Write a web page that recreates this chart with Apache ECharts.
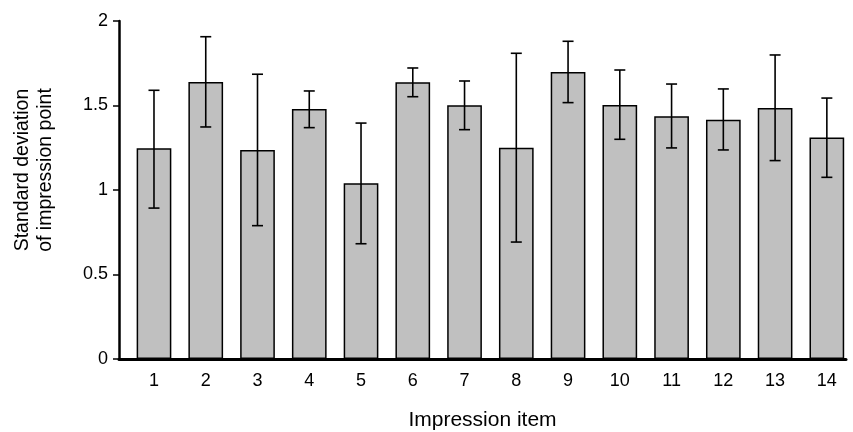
<!DOCTYPE html>
<html>
<head>
<meta charset="utf-8">
<script src="https://cdn.jsdelivr.net/npm/echarts@6/dist/echarts.min.js"></script>
<style>html,body{margin:0;padding:0;background:#fff;}#c{width:853px;height:432px;}</style>
</head>
<body>
<div id="c"></div>
<script>
var items = [1,2,3,4,5,6,7,8,9,10,11,12,13,14];
var means = [1.247,1.639,1.237,1.479,1.040,1.637,1.501,1.250,1.698,1.503,1.436,1.416,1.485,1.310];
var errHigh = [1.590,1.907,1.685,1.586,1.396,1.722,1.645,1.809,1.880,1.710,1.627,1.598,1.799,1.544];
var errLow = [0.893,1.373,0.789,1.369,0.682,1.552,1.357,0.692,1.517,1.300,1.249,1.237,1.174,1.075];
var yTicks = [0,0.5,1,1.5,2];

var FONT = '"Liberation Sans",Arial,sans-serif';
var chart = echarts.init(document.getElementById('c'));
var barData = items.map(function(x,i){return [x, means[i]];});
var errData = items.map(function(x,i){return [x, errLow[i], errHigh[i]];});
chart.setOption({
  animation:false,
  grid:{left:119,right:7,top:21,bottom:73,containLabel:false,outerBoundsMode:'none'},
  xAxis:{
    type:'value', min:0.324, max:14.37,
    name:'Impression item', nameLocation:'middle', nameGap:51,
    nameTextStyle:{fontFamily:FONT,fontSize:21,color:'#000'},
    axisLine:{show:true,onZero:false,lineStyle:{color:'#000',width:3}},
    axisTick:{show:false},
    splitLine:{show:false},
    axisLabel:{customValues:items,fontFamily:FONT,fontSize:18,color:'#000',margin:13}
  },
  yAxis:{
    type:'value', min:0, max:2, interval:0.5,
    name:'Standard deviation\nof impression point', nameLocation:'middle', nameGap:62,
    nameTextStyle:{fontFamily:FONT,fontSize:19.5,color:'#000',lineHeight:23,padding:[0,0,0,40]},
    axisLine:{show:true,lineStyle:{color:'#000',width:2.5}},
    axisTick:{show:true,length:6,lineStyle:{color:'#000',width:1.5}},
    splitLine:{show:false},
    axisLabel:{customValues:yTicks,fontFamily:FONT,fontSize:18,color:'#000',margin:11,
      formatter:function(v){return String(v);}}
  },
  series:[
    {type:'bar', data:barData, barWidth:34.7,
      itemStyle:{color:'#c0c0c0',borderColor:'#000',borderWidth:1.5}},
    {type:'custom', data:errData, z:10,
      renderItem:function(params,api){
        var x=api.value(0);
        var lo=api.coord([x,api.value(1)]);
        var hi=api.coord([x,api.value(2)]);
        var hw=5.5;
        var st={stroke:'#000',lineWidth:1.6};
        return {type:'group',children:[
          {type:'line',shape:{x1:hi[0],y1:hi[1],x2:lo[0],y2:lo[1]},style:st},
          {type:'line',shape:{x1:hi[0]-hw,y1:hi[1],x2:hi[0]+hw,y2:hi[1]},style:st},
          {type:'line',shape:{x1:lo[0]-hw,y1:lo[1],x2:lo[0]+hw,y2:lo[1]},style:st}
        ]};
      }
    }
  ]
});
</script>
</body>
</html>
